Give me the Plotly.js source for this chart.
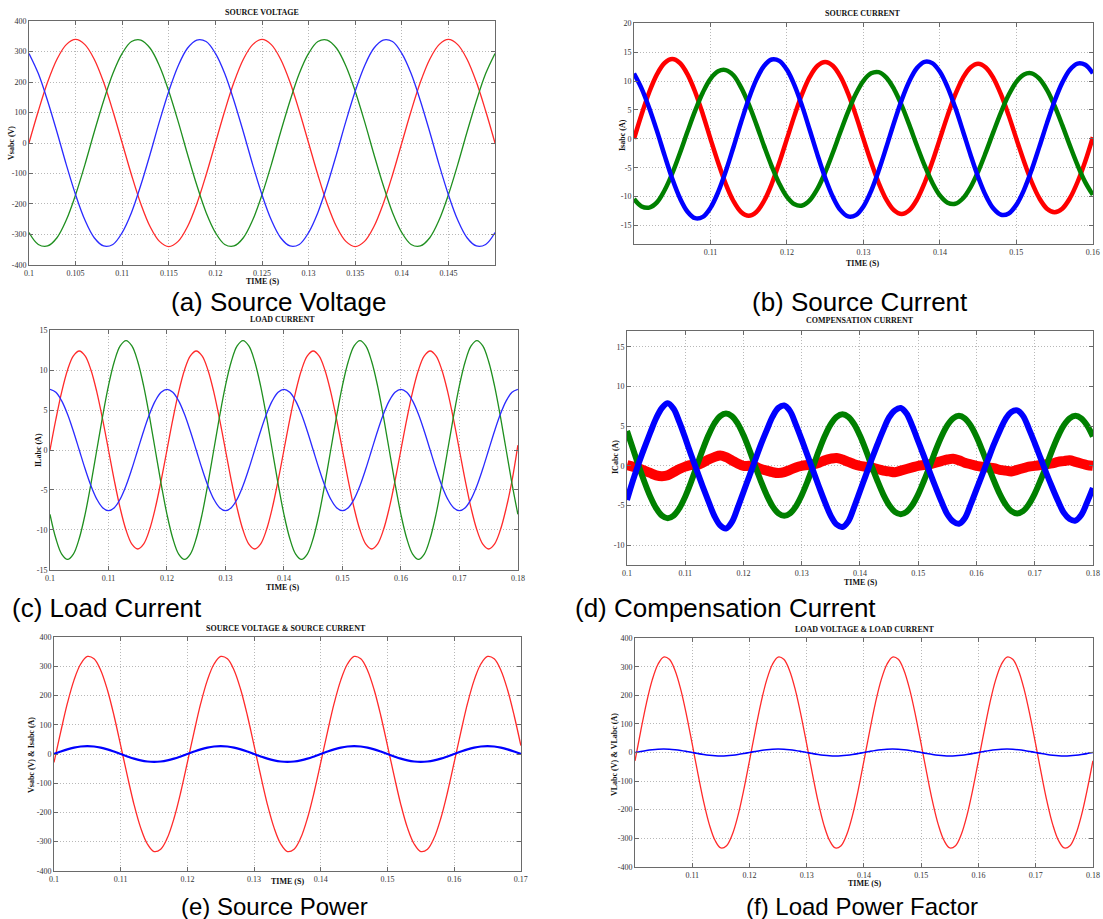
<!DOCTYPE html>
<html>
<head>
<meta charset="utf-8">
<script src="https://cdn.plot.ly/plotly-3.0.1.min.js"></script>
<style>
html,body{margin:0;padding:0;background:#fff;}
#chart{width:1103px;height:919px;}
</style>
</head>
<body>
<div id="chart"></div>
<script>
// ---------- DATA ----------
const time = [0.100,0.101,0.102,0.103,0.104,0.105,0.106,0.107,0.108,0.109,0.110,0.111,0.112,0.113,0.114,0.115,0.116,0.117,0.118,0.119,0.120,0.121,0.122,0.123,0.124,0.125,0.126,0.127,0.128,0.129,0.130,0.131,0.132,0.133,0.134,0.135,0.136,0.137,0.138,0.139,0.140,0.141,0.142,0.143,0.144,0.145,0.146,0.147,0.148,0.149,0.150,0.151,0.152,0.153,0.154,0.155,0.156,0.157,0.158,0.159,0.160,0.161,0.162,0.163,0.164,0.165,0.166,0.167,0.168,0.169,0.170,0.171,0.172,0.173,0.174,0.175,0.176,0.177,0.178,0.179,0.180];

// (a) Source voltage (V), 0.100 .. 0.150 s
const srcVoltA = [0,105,200,275,323,340,323,275,200,105,0,-105,-200,-275,-323,-340,-323,-275,-200,-105,0,105,200,275,323,340,323,275,200,105,0,-105,-200,-275,-323,-340,-323,-275,-200,-105,0,105,200,275,323,340,323,275,200,105,0];
const srcVoltB = [-294,-333,-338,-311,-253,-170,-71,36,138,228,294,333,338,311,253,170,71,-36,-138,-228,-294,-333,-338,-311,-253,-170,-71,36,138,228,294,333,338,311,253,170,71,-36,-138,-228,-294,-333,-338,-311,-253,-170,-71,36,138,228,294];
const srcVoltC = [294,228,138,36,-71,-170,-253,-311,-338,-333,-294,-228,-138,-36,71,170,253,311,338,333,294,228,138,36,-71,-170,-253,-311,-338,-333,-294,-228,-138,-36,71,170,253,311,338,333,294,228,138,36,-71,-170,-253,-311,-338,-333,-294];

// (b) Source current (A), 0.100 .. 0.160 s
const srcCurA = [0,4.26,8.11,11.16,13.12,13.8,13.12,11.16,8.11,4.26,0,-4.11,-7.82,-10.76,-12.65,-13.3,-12.65,-10.76,-7.82,-4.11,0,4.11,7.82,10.76,12.65,13.3,12.65,10.76,7.82,4.11,0,-4.02,-7.64,-10.52,-12.36,-13.0,-12.36,-10.52,-7.64,-4.02,0,4.02,7.64,10.52,12.36,13.0,12.36,10.52,7.64,4.02,0,-3.92,-7.47,-10.27,-12.08,-12.7,-12.08,-10.27,-7.47,-3.92,0.3];
const srcCurB = [-10.4,-11.7,-11.9,-11.0,-8.9,-6.0,-2.5,1.26,4.88,8.03,10.4,11.7,11.9,11.0,8.9,6.0,2.5,-1.22,-4.72,-7.76,-10.05,-11.34,-11.54,-10.6,-8.62,-5.8,-2.41,1.22,4.72,7.76,10.05,11.34,11.54,10.6,8.62,5.8,2.41,-1.19,-4.6,-7.56,-9.79,-11.05,-11.24,-10.33,-8.4,-5.65,-2.35,1.2,4.64,7.63,9.87,11.15,11.34,10.42,8.47,5.7,2.37,-1.18,-4.56,-7.49,-9.7];
const srcCurC = [11.3,8.7,5.3,1.37,-2.87,-6.9,-10.25,-12.61,-13.73,-13.5,-11.95,-9.23,-5.62,-1.45,2.87,6.9,10.25,12.61,13.73,13.5,11.95,9.23,5.62,1.45,-2.81,-6.75,-10.03,-12.34,-13.43,-13.2,-11.69,-9.03,-5.49,-1.42,2.79,6.7,9.96,12.25,13.33,13.1,11.6,8.96,5.45,1.41,-2.75,-6.6,-9.81,-12.06,-13.13,-12.91,-11.43,-8.83,-5.37,-1.39,2.72,6.55,9.73,11.97,13.03,12.81,11.34];

// (c) Load current (A), 0.100 .. 0.180 s
const loadCurA = [0,3.83,7.29,10.03,11.79,12.4,11.79,10.03,7.29,3.83,0,-3.83,-7.29,-10.03,-11.79,-12.4,-11.79,-10.03,-7.29,-3.83,0,3.83,7.29,10.03,11.79,12.4,11.79,10.03,7.29,3.83,0,-3.83,-7.29,-10.03,-11.79,-12.4,-11.79,-10.03,-7.29,-3.83,0,3.83,7.29,10.03,11.79,12.4,11.79,10.03,7.29,3.83,0,-3.83,-7.29,-10.03,-11.79,-12.4,-11.79,-10.03,-7.29,-3.83,0,3.83,7.29,10.03,11.79,12.4,11.79,10.03,7.29,3.83,0,-3.83,-7.29,-10.03,-11.79,-12.4,-11.79,-10.03,-7.29,-3.83,0.6];
const loadCurB = [-8.06,-11.08,-13.03,-13.7,-13.03,-11.08,-8.06,-4.23,0,4.23,8.06,11.08,13.03,13.7,13.03,11.08,8.06,4.23,0,-4.23,-8.06,-11.08,-13.03,-13.7,-13.03,-11.08,-8.06,-4.23,0,4.23,8.06,11.08,13.03,13.7,13.03,11.08,8.06,4.23,0,-4.23,-8.06,-11.08,-13.03,-13.7,-13.03,-11.08,-8.06,-4.23,0,4.23,8.06,11.08,13.03,13.7,13.03,11.08,8.06,4.23,0,-4.23,-8.06,-11.08,-13.03,-13.7,-13.03,-11.08,-8.06,-4.23,0,4.23,8.06,11.08,13.03,13.7,13.03,11.08,8.06,4.23,0,-4.23,-8.06];
const loadCurC = [7.6,7.23,6.15,4.47,2.35,0,-2.35,-4.47,-6.15,-7.23,-7.6,-7.23,-6.15,-4.47,-2.35,0,2.35,4.47,6.15,7.23,7.6,7.23,6.15,4.47,2.35,0,-2.35,-4.47,-6.15,-7.23,-7.6,-7.23,-6.15,-4.47,-2.35,0,2.35,4.47,6.15,7.23,7.6,7.23,6.15,4.47,2.35,0,-2.35,-4.47,-6.15,-7.23,-7.6,-7.23,-6.15,-4.47,-2.35,0,2.35,4.47,6.15,7.23,7.6,7.23,6.15,4.47,2.35,0,-2.35,-4.47,-6.15,-7.23,-7.6,-7.23,-6.15,-4.47,-2.35,0,2.35,4.47,6.15,7.23,7.6];

// (d) Compensation current (A), 0.100 .. 0.180 s
const compCurA = [0.1,-0.1,-0.3,-0.6,-0.9,-1.2,-1.3,-1.2,-0.8,-0.4,-0.1,0.1,0.1,0.4,0.8,1.1,1.3,1.1,0.7,0.3,0.0,0.0,-0.1,-0.4,-0.6,-0.8,-0.9,-0.8,-0.5,-0.2,0.0,0.1,0.2,0.4,0.7,0.9,1.0,0.8,0.5,0.2,0.0,-0.1,-0.2,-0.4,-0.6,-0.7,-0.8,-0.6,-0.4,-0.2,0.0,0.1,0.2,0.4,0.6,0.8,0.9,0.7,0.4,0.2,0.0,-0.1,-0.2,-0.3,-0.5,-0.6,-0.7,-0.5,-0.3,-0.1,0.0,0.1,0.2,0.3,0.5,0.6,0.7,0.5,0.3,0.1,0.0];
const compCurB = [4.4,2.2,0,-2.04,-3.88,-5.34,-6.28,-6.6,-6.28,-5.34,-3.88,-2.04,0,2.04,3.88,5.34,6.28,6.6,6.28,5.34,3.88,2.04,0,-1.95,-3.7,-5.1,-5.99,-6.3,-5.99,-5.1,-3.7,-1.95,0,2.01,3.82,5.26,6.18,6.5,6.18,5.26,3.82,2.01,0,-1.88,-3.59,-4.93,-5.8,-6.1,-5.8,-4.93,-3.59,-1.88,0,1.95,3.7,5.1,5.99,6.3,5.99,5.1,3.7,1.95,0,-1.85,-3.53,-4.85,-5.71,-6.0,-5.71,-4.85,-3.53,-1.85,0,1.95,3.7,5.1,5.99,6.3,5.99,5.1,3.7];
const compCurC = [-4.3,-1.9,0.3,2.3,4.2,6.0,7.3,7.9,7.2,5.5,3.5,1.4,-0.6,-2.6,-4.5,-6.3,-7.5,-7.9,-7.1,-5.3,-3.3,-1.3,0.7,2.7,4.5,6.2,7.3,7.6,6.9,5.2,3.3,1.3,-0.7,-2.7,-4.6,-6.3,-7.4,-7.7,-7.0,-5.2,-3.2,-1.2,0.8,2.7,4.5,6.1,7.0,7.3,6.6,5.0,3.1,1.2,-0.8,-2.7,-4.5,-6.1,-7.0,-7.3,-6.6,-4.9,-3.0,-1.1,0.8,2.7,4.4,5.9,6.8,7.0,6.3,4.7,2.9,1.0,-0.9,-2.7,-4.4,-5.9,-6.7,-6.9,-6.2,-4.6,-2.8];

// (e) Source voltage & source current, 0.100 .. 0.170 s
const spVolt = [-29,75,173,253,308,334,326,287,220,131,29,-75,-173,-253,-308,-334,-326,-287,-220,-131,-29,75,173,253,308,334,326,287,220,131,29,-75,-173,-253,-308,-334,-326,-287,-220,-131,-29,75,173,253,308,334,326,287,220,131,29,-75,-173,-253,-308,-334,-326,-287,-220,-131,-29,75,173,253,308,334,326,287,220,131,29];
const spCur = [0,8.3,15.9,21.8,25.7,27,25.7,21.8,15.9,8.3,0,-8.3,-15.9,-21.8,-25.7,-27,-25.7,-21.8,-15.9,-8.3,0,8.3,15.9,21.8,25.7,27,25.7,21.8,15.9,8.3,0,-8.3,-15.9,-21.8,-25.7,-27,-25.7,-21.8,-15.9,-8.3,0,8.3,15.9,21.8,25.7,27,25.7,21.8,15.9,8.3,0,-8.3,-15.9,-21.8,-25.7,-27,-25.7,-21.8,-15.9,-8.3,0,8.3,15.9,21.8,25.7,27,25.7,21.8,15.9,8.3,0];

// (f) Load voltage & load current, 0.100 .. 0.180 s
const lpVolt = [-29,75,173,253,308,334,326,287,220,131,29,-75,-173,-253,-308,-334,-326,-287,-220,-131,-29,75,173,253,308,334,326,287,220,131,29,-75,-173,-253,-308,-334,-326,-287,-220,-131,-29,75,173,253,308,334,326,287,220,131,29,-75,-173,-253,-308,-334,-326,-287,-220,-131,-29,75,173,253,308,334,326,287,220,131,29,-75,-173,-253,-308,-334,-326,-287,-220,-131,-29];
const lpCur = [0,3.7,7.1,9.7,11.4,12,11.4,9.7,7.1,3.7,0,-3.7,-7.1,-9.7,-11.4,-12,-11.4,-9.7,-7.1,-3.7,0,3.7,7.1,9.7,11.4,12,11.4,9.7,7.1,3.7,0,-3.7,-7.1,-9.7,-11.4,-12,-11.4,-9.7,-7.1,-3.7,0,3.7,7.1,9.7,11.4,12,11.4,9.7,7.1,3.7,0,-3.7,-7.1,-9.7,-11.4,-12,-11.4,-9.7,-7.1,-3.7,0,3.7,7.1,9.7,11.4,12,11.4,9.7,7.1,3.7,0,-3.7,-7.1,-9.7,-11.4,-12,-11.4,-9.7,-7.1,-3.7,0];

// Tick labels
const xTicksA = [0.1,0.105,0.11,0.115,0.12,0.125,0.13,0.135,0.14,0.145];
const xTickTextA = ["0.1","0.105","0.11","0.115","0.12","0.125","0.13","0.135","0.14","0.145"];
const xTicksB = [0.11,0.12,0.13,0.14,0.15,0.16];
const xTickTextB = ["0.11","0.12","0.13","0.14","0.15","0.16"];
const xTicksC = [0.1,0.11,0.12,0.13,0.14,0.15,0.16,0.17,0.18];
const xTickTextC = ["0.1","0.11","0.12","0.13","0.14","0.15","0.16","0.17","0.18"];
const xTicksE = [0.1,0.11,0.12,0.13,0.14,0.15,0.16,0.17];
const xTickTextE = ["0.1","0.11","0.12","0.13","0.14","0.15","0.16","0.17"];
const xTicksF = [0.11,0.12,0.13,0.14,0.15,0.16,0.17,0.18];
const xTickTextF = ["0.11","0.12","0.13","0.14","0.15","0.16","0.17","0.18"];
const yTicksV = [-400,-300,-200,-100,0,100,200,300,400];
const yTickTextV = ["-400","-300","-200","-100","0","100","200","300","400"];
const yTicksB = [-15,-10,-5,0,5,10,15,20];
const yTickTextB = ["-15","-10","-5","0","5","10","15","20"];
const yTicksC = [-15,-10,-5,0,5,10,15];
const yTickTextC = ["-15","-10","-5","0","5","10","15"];
const yTicksD = [-10,-5,0,5,10,15];
const yTickTextD = ["-10","-5","0","5","10","15"];

const panelTitles = ["SOURCE VOLTAGE","SOURCE CURRENT","LOAD CURRENT","COMPENSATION CURRENT","SOURCE VOLTAGE &amp; SOURCE CURRENT","LOAD VOLTAGE &amp; LOAD CURRENT"];
const yLabels = ["Vsabc (V)","Isabc (A)","ILabc (A)","ICabc (A)","Vsabc (V) &amp; Isabc (A)","VLabc (V) &amp; VLabc (A)"];
const captions = ["(a) Source Voltage","(b) Source Current","(c) Load Current","(d) Compensation Current","(e) Source Power","(f) Load Power Factor"];

// ---------- LAYOUT / STYLE ----------
const W = 1103, H = 919;
const px = v => v / W;
const py = v => 1 - v / H;

const RED = '#ff0000', GREEN = '#008000', BLUE = '#0000ff';
const RED_T = '#ff2a2a', GREEN_T = '#1f8f1f', BLUE_T = '#2a2aff';

function axisBase(extra) {
  return Object.assign({
    showline: true, linecolor: '#6a6a6a', linewidth: 1, mirror: 'ticks',
    showgrid: true, gridcolor: '#b8b8b8', griddash: '1px,2px', gridwidth: 1,
    zeroline: false, ticks: 'inside', ticklen: 4, tickcolor: '#6a6a6a',
    tickmode: 'array', ticklabeloverflow: 'allow',
    tickfont: {family: 'Liberation Serif, Times New Roman, serif', size: 8, color: '#333'},
    fixedrange: true
  }, extra);
}

// pixel boxes [left, right, top, bottom]
const boxes = [
  [29, 495, 21, 265],
  [634, 1093, 23, 244],
  [50, 518, 330, 570],
  [627, 1093, 331, 565],
  [54, 521, 637, 871],
  [635, 1093, 638, 867]
];

const layout = {
  width: W, height: H,
  margin: {l: 0, r: 0, t: 0, b: 0},
  paper_bgcolor: '#fff', plot_bgcolor: '#fff',
  showlegend: false, hovermode: false,
  annotations: []
};

const xSpecs = [
  {range: [0.1, 0.15], tickvals: xTicksA, ticktext: xTickTextA},
  {range: [0.1, 0.16002], tickvals: xTicksB, ticktext: xTickTextB},
  {range: [0.1, 0.18002], tickvals: xTicksC, ticktext: xTickTextC},
  {range: [0.1, 0.18002], tickvals: xTicksC, ticktext: xTickTextC},
  {range: [0.1, 0.17002], tickvals: xTicksE, ticktext: xTickTextE},
  {range: [0.1, 0.18002], tickvals: xTicksF, ticktext: xTickTextF}
];
const ySpecs = [
  {range: [-400.5, 400.5], tickvals: yTicksV, ticktext: yTickTextV},
  {range: [-18.2, 20.05], tickvals: yTicksB, ticktext: yTickTextB},
  {range: [-15.03, 15.03], tickvals: yTicksC, ticktext: yTickTextC},
  {range: [-12.5, 17], tickvals: yTicksD, ticktext: yTickTextD},
  {range: [-400.5, 400.5], tickvals: yTicksV, ticktext: yTickTextV},
  {range: [-400.5, 400.5], tickvals: yTicksV, ticktext: yTickTextV}
];

boxes.forEach((b, i) => {
  const n = i === 0 ? '' : String(i + 1);
  layout['xaxis' + n] = axisBase(Object.assign({domain: [px(b[0]), px(b[1])], anchor: 'y' + n}, xSpecs[i]));
  layout['yaxis' + n] = axisBase(Object.assign({domain: [py(b[3]), py(b[2])], anchor: 'x' + n}, ySpecs[i]));
});

// text positions (pixels)
const titlePos = [[262, 12], [863, 13], [282, 320], [860, 321], [286, 628], [864, 629]];
const yLabPos = [[12, 143], [623, 135], [38, 450], [615, 457], [31, 755], [614, 755]];
const xLabPos = [[262, 281], [862, 263], [282, 587], [860, 582], [287, 881], [864, 883]];
const capPos = [[278, 302, 26], [860, 302, 26], [107, 608, 26], [725, 608, 26], [274, 906, 24], [862, 906, 24]];

const serifBold = {family: 'Liberation Serif, Times New Roman, serif', size: 8, color: '#111'};

for (let i = 0; i < 6; i++) {
  layout.annotations.push({xref: 'paper', yref: 'paper', x: px(titlePos[i][0]), y: py(titlePos[i][1]),
    xanchor: 'center', yanchor: 'middle', showarrow: false, text: '<b>' + panelTitles[i] + '</b>', font: serifBold});
  layout.annotations.push({xref: 'paper', yref: 'paper', x: px(yLabPos[i][0]), y: py(yLabPos[i][1]),
    xanchor: 'center', yanchor: 'middle', showarrow: false, textangle: -90, text: '<b>' + yLabels[i] + '</b>', font: serifBold});
  layout.annotations.push({xref: 'paper', yref: 'paper', x: px(xLabPos[i][0]), y: py(xLabPos[i][1]),
    xanchor: 'center', yanchor: 'middle', showarrow: false, text: '<b>TIME (S)</b>', font: serifBold});
  layout.annotations.push({xref: 'paper', yref: 'paper', x: px(capPos[i][0]), y: py(capPos[i][1]),
    xanchor: 'center', yanchor: 'middle', showarrow: false, text: captions[i],
    font: {family: 'Liberation Sans, Arial, sans-serif', size: capPos[i][2], color: '#000'}});
}

function tr(x, y, color, width, n) {
  const ax = n === 1 ? '' : String(n);
  return {type: 'scatter', mode: 'lines', x: x, y: y, xaxis: 'x' + ax, yaxis: 'y' + ax,
    line: {color: color, width: width, shape: 'spline', smoothing: 1}, hoverinfo: 'skip', showlegend: false};
}

const tA = time.slice(0, 51), tB = time.slice(0, 61), tE = time.slice(0, 71);

const data = [
  tr(tA, srcVoltA, RED_T, 1.3, 1),
  tr(tA, srcVoltB, GREEN_T, 1.3, 1),
  tr(tA, srcVoltC, BLUE_T, 1.3, 1),

  tr(tB, srcCurA, RED, 4.5, 2),
  tr(tB, srcCurB, GREEN, 4.5, 2),
  tr(tB, srcCurC, BLUE, 4.5, 2),

  tr(time, loadCurA, RED_T, 1.3, 3),
  tr(time, loadCurB, GREEN_T, 1.3, 3),
  tr(time, loadCurC, BLUE_T, 1.3, 3),

  tr(time, compCurA, RED, 10, 4),
  tr(time, compCurB, GREEN, 6, 4),
  tr(time, compCurC, BLUE, 6, 4),

  tr(tE, spVolt, RED_T, 1.3, 5),
  tr(tE, spCur, BLUE, 2.2, 5),

  tr(time, lpVolt, RED_T, 1.3, 6),
  tr(time, lpCur, BLUE, 1.6, 6)
];

Plotly.newPlot('chart', data, layout, {staticPlot: true, displayModeBar: false});
</script>
</body>
</html>
